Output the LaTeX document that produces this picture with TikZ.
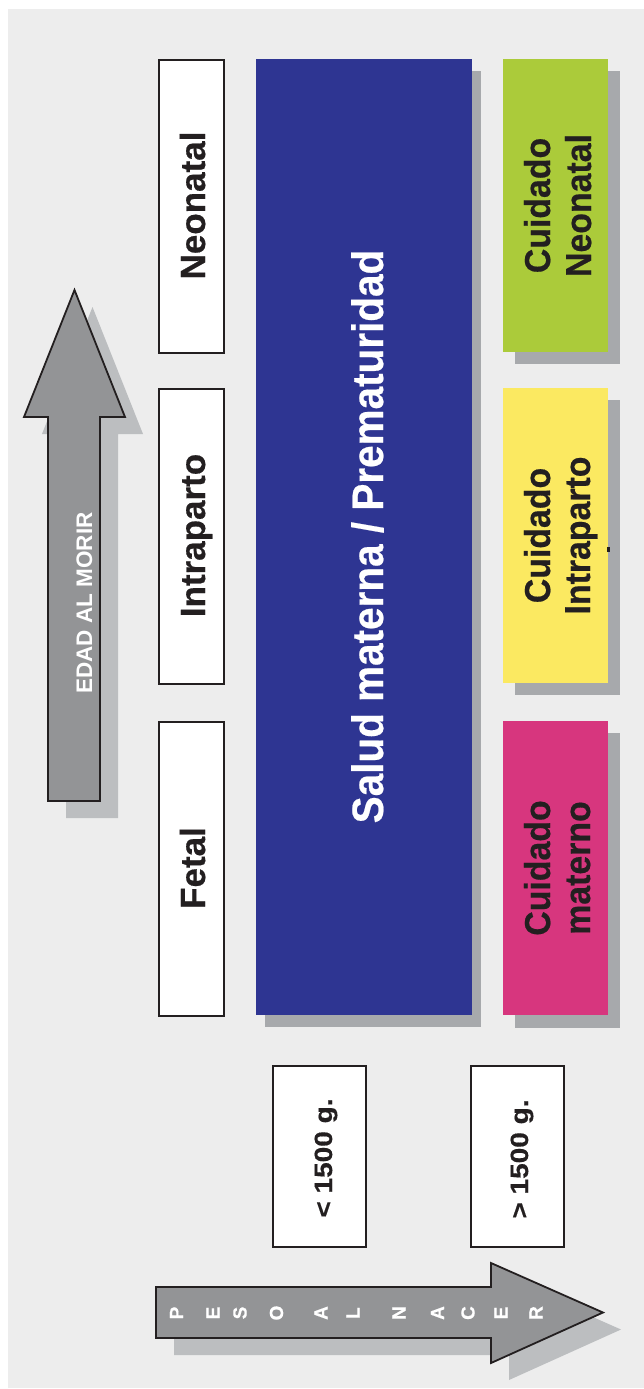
\documentclass[tikz,border=0pt]{standalone}
\usepackage{fontspec}
\setmainfont{Liberation Sans}
\newfontfamily\heavyfont{Liberation Sans Bold}[FakeBold=0.5]
\usepackage{graphicx}
\definecolor{bgc}{HTML}{EDEDED}
\definecolor{boxsh}{HTML}{A7A9AC}
\definecolor{arrfill}{HTML}{939496}
\definecolor{arrsh}{HTML}{BCBEC0}
\definecolor{bluec}{HTML}{2E3592}
\definecolor{greenc}{HTML}{ABCB3A}
\definecolor{yellowc}{HTML}{FBE961}
\definecolor{magc}{HTML}{D7367E}
\definecolor{txt}{HTML}{231F20}
\newcommand{\myfs}[2]{\fontsize{#1}{#2}\selectfont}
\begin{document}
\begin{tikzpicture}[x=1pt,y=-1pt,
  wbox/.style={draw=txt, line width=2pt, fill=white, rectangle, inner sep=0pt, anchor=north west},
  cbox/.style={rectangle, inner sep=0pt, anchor=north west},
  lbl/.style={rotate=90, anchor=base, inner sep=0pt, text=txt, font=\heavyfont\myfs{35}{42}},
  clbl/.style={rotate=90, anchor=base, inner sep=0pt, text=txt, font=\heavyfont\myfs{36}{42}},
  wlbl/.style={rotate=90, anchor=base, inner sep=0pt, text=txt, font=\heavyfont\myfs{25}{28}},
  letter/.style={rotate=90, anchor=center, inner sep=0pt, text=white, font=\heavyfont\myfs{19}{20}},
  arrow shape/.style={fill=arrfill, draw=txt, line width=1.8pt, line join=miter}
]
\useasboundingbox (0,0) rectangle (644,1389);
\fill[bgc] (8,9) rectangle (644,1388);

% shadows
\fill[boxsh] (265,71) rectangle (481,1027);
\fill[boxsh] (515,71) rectangle (620,364);
\fill[boxsh] (515,400) rectangle (620,695);
\fill[boxsh] (515,733) rectangle (620,1028);

% white boxes
\node[wbox, minimum width=65pt, minimum height=293pt] (bNeo) at (158,59) {};
\node[wbox, minimum width=65pt, minimum height=295pt] (bInt) at (158,388) {};
\node[wbox, minimum width=65pt, minimum height=294pt] (bFet) at (158,721) {};

% blue box
\node[cbox, fill=bluec, minimum width=216pt, minimum height=956pt] (bSal) at (256,59) {};

% coloured boxes
\node[cbox, fill=greenc, minimum width=105pt, minimum height=293pt] (cNeo) at (503,59) {};
\node[cbox, fill=yellowc, minimum width=105pt, minimum height=295pt] (cInt) at (503,388) {};
\node[cbox, fill=magc, minimum width=105pt, minimum height=294pt] (cMat) at (503,721) {};
\fill[txt] (607,547) rectangle (609.5,552);

% weight boxes
\node[wbox, minimum width=93pt, minimum height=181pt] (wLow) at (272,1065) {};
\node[wbox, minimum width=93pt, minimum height=181pt] (wHigh) at (470,1065) {};

% up arrow
\fill[arrsh] (66,818) -- (66,434) -- (42,434) -- (92.5,307) -- (143,434) -- (118,434) -- (118,818) -- cycle;
\draw[arrow shape] (48,801) -- (48,417) -- (24,417) -- (74.5,290) -- (125,417) -- (100,417) -- (100,801) -- cycle;

% right arrow
\fill[arrsh] (174,1304) -- (509,1304) -- (509,1280) -- (621,1329.5) -- (509,1380) -- (509,1355) -- (174,1355) -- cycle;
\draw[arrow shape] (156,1287) -- (491,1287) -- (491,1263) -- (603,1312.5) -- (491,1363) -- (491,1338) -- (156,1338) -- cycle;

% texts
\node[lbl] (tNeo) at (205,205.5) {Neonatal};
\node[lbl] (tInt) at (205,535.5) {Intraparto};
\node[lbl] (tFet) at (205,868) {Fetal};

\node[rotate=90, anchor=base, inner sep=0pt, text=white, font=\heavyfont\myfs{44}{50}] (tSal) at (383,536.5) {\scalebox{0.92}[1]{Salud materna / Prematuridad}};

\node[clbl] (tC1a) at (550,205.5) {\scalebox{0.94}[1]{Cuidado}};
\node[clbl] (tC1b) at (591,205.5) {\scalebox{0.94}[1]{Neonatal}};
\node[clbl] (tC2a) at (550,535.5) {\scalebox{0.94}[1]{Cuidado}};
\node[clbl] (tC2b) at (590,535.5) {\scalebox{0.94}[1]{Intraparto}};
\node[clbl] (tC3a) at (550,868) {\scalebox{0.94}[1]{Cuidado}};
\node[clbl] (tC3b) at (590,868) {\scalebox{0.94}[1]{materno}};

\node[wlbl] (tLow) at (332,1158) {\scalebox{1.12}[1]{< 1500 g.}};
\node[wlbl] (tHigh) at (528,1159) {\scalebox{1.12}[1]{> 1500 g.}};

\node[rotate=90, anchor=base, inner sep=0pt, text=white, font=\bfseries\myfs{22.5}{26}] (tEdad) at (92,603) {EDAD AL MORIR};

\node[letter] (l1) at (176.5,1313) {P};
\node[letter] (l2) at (213,1313) {E};
\node[letter] (l3) at (240,1313) {S};
\node[letter] (l4) at (276.5,1313) {O};
\node[letter] (l5) at (321,1313) {A};
\node[letter] (l6) at (353,1313) {L};
\node[letter] (l7) at (399,1313) {N};
\node[letter] (l8) at (437.5,1313) {A};
\node[letter] (l9) at (468,1313) {C};
\node[letter] (l10) at (501,1313) {E};
\node[letter] (l11) at (536,1313) {R};
\end{tikzpicture}
\end{document}
